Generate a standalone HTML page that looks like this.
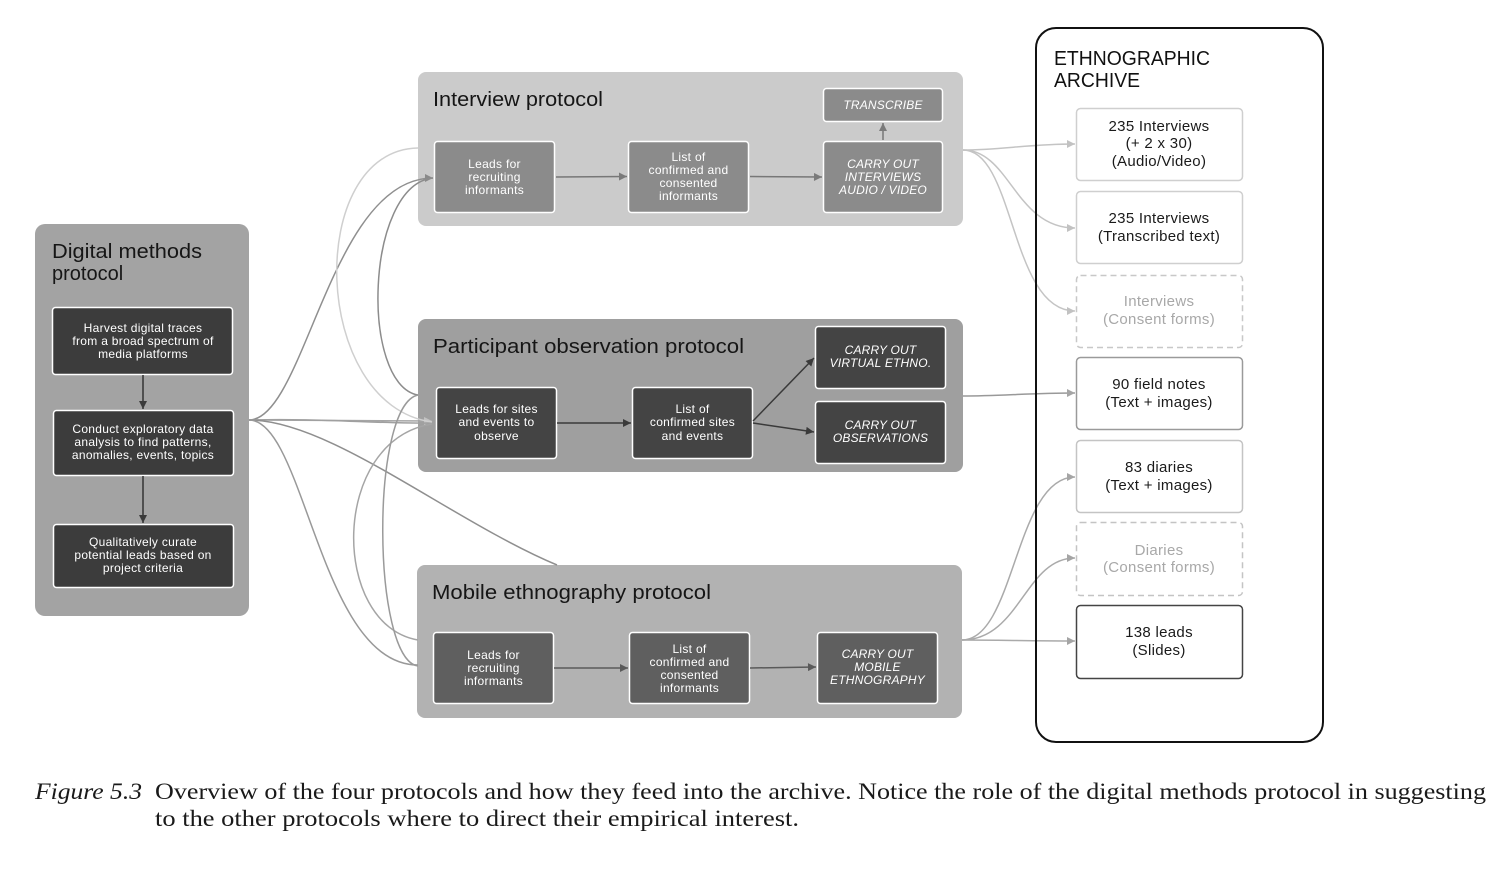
<!DOCTYPE html>
<html><head><meta charset="utf-8"><style>
html,body{margin:0;padding:0;background:#fff;}
svg{display:block;}
.t{font-family:"Liberation Sans",sans-serif;}
.w{fill:#fff;font-size:12px;letter-spacing:0.3px;text-anchor:middle;}
.wi{fill:#fff;font-size:12px;letter-spacing:0.2px;text-anchor:middle;font-style:italic;}
.ttl{fill:#161616;font-size:20px;}
.ai{fill:#1a1a1a;font-size:15px;letter-spacing:0.3px;text-anchor:middle;}
.ag{fill:#a8a8a8;font-size:15px;letter-spacing:0.3px;text-anchor:middle;}
.cap{font-family:"Liberation Serif",serif;font-size:23px;fill:#1a1a1a;}
</style></head><body>
<svg width="1508" height="872" viewBox="0 0 1508 872" xmlns="http://www.w3.org/2000/svg">
<defs>
<marker id="mDark" viewBox="0 0 10 10" refX="10" refY="5" markerWidth="9" markerHeight="8" markerUnits="userSpaceOnUse" orient="auto"><path d="M0,0 L10,5 L0,10 z" fill="#3a3a3a"/></marker>
<marker id="mMid" viewBox="0 0 10 10" refX="10" refY="5" markerWidth="9" markerHeight="8" markerUnits="userSpaceOnUse" orient="auto"><path d="M0,0 L10,5 L0,10 z" fill="#8a8a8a"/></marker>
<marker id="mInt" viewBox="0 0 10 10" refX="10" refY="5" markerWidth="9" markerHeight="8" markerUnits="userSpaceOnUse" orient="auto"><path d="M0,0 L10,5 L0,10 z" fill="#7a7a7a"/></marker>
<marker id="mMob" viewBox="0 0 10 10" refX="10" refY="5" markerWidth="9" markerHeight="8" markerUnits="userSpaceOnUse" orient="auto"><path d="M0,0 L10,5 L0,10 z" fill="#5a5a5a"/></marker>
<marker id="mLight" viewBox="0 0 10 10" refX="10" refY="5" markerWidth="9" markerHeight="8" markerUnits="userSpaceOnUse" orient="auto"><path d="M0,0 L10,5 L0,10 z" fill="#c2c2c2"/></marker>
<marker id="mGray" viewBox="0 0 10 10" refX="10" refY="5" markerWidth="9" markerHeight="8" markerUnits="userSpaceOnUse" orient="auto"><path d="M0,0 L10,5 L0,10 z" fill="#a5a5a5"/></marker>
</defs>

<!-- Archive background -->
<rect x="1036" y="28" width="287" height="714" rx="20" fill="#fff"/>

<!-- Protocol containers -->
<rect x="35" y="224" width="214" height="392" rx="10" fill="#a3a3a3"/>
<rect x="418" y="72" width="545" height="154" rx="8" fill="#cbcbcb"/>
<rect x="418" y="319" width="545" height="153" rx="8" fill="#9f9f9f"/>
<rect x="417" y="565" width="545" height="153" rx="8" fill="#b2b2b2"/>

<!-- Left connectors -->
<g fill="none" stroke-width="1.5">
  <path d="M249,420 C305,420 330,178 433,178" stroke="#8f8f8f" marker-end="url(#mMid)"/>
  <path d="M249,420 L432,421" stroke="#a5a5a5" marker-end="url(#mLight)"/>
  <path d="M249,420 C320,418 380,424 432,423" stroke="#a0a0a0"/>
  <path d="M249,420 C330,420 450,520 557,565" stroke="#8f8f8f"/>
  <path d="M249,420 C305,420 320,665 418,665" stroke="#999"/>
  <path d="M418,148 C305,150 310,405 432,422" stroke="#cfcfcf"/>
  <path d="M418,395 C360,385 365,185 433,178" stroke="#8c8c8c"/>
  <path d="M418,640 C330,625 330,440 432,424" stroke="#a5a5a5"/>
  <path d="M418,395 C370,405 372,660 418,666" stroke="#9a9a9a"/>
</g>

<!-- Right connectors -->
<g fill="none" stroke-width="1.5">
  <path d="M963,150 C1000,150 1030,144 1075,144" stroke="#c4c4c4" marker-end="url(#mLight)"/>
  <path d="M963,150 C1010,150 1015,228 1075,228" stroke="#c4c4c4" marker-end="url(#mLight)"/>
  <path d="M963,150 C1015,150 1010,311 1075,311" stroke="#c4c4c4" marker-end="url(#mLight)"/>
  <path d="M963,396 C1000,396 1030,393 1075,393" stroke="#999" marker-end="url(#mGray)"/>
  <path d="M962,640 C1015,640 1015,477 1075,477" stroke="#aaa" marker-end="url(#mGray)"/>
  <path d="M962,640 C1020,640 1025,558 1075,558" stroke="#aaa" marker-end="url(#mGray)"/>
  <path d="M962,640 C1000,640 1030,641 1075,641" stroke="#aaa" marker-end="url(#mGray)"/>
</g>

<!-- Archive border -->
<rect x="1036" y="28" width="287" height="714" rx="20" fill="none" stroke="#111" stroke-width="2"/>

<g class="t">
<!-- Digital methods -->
<text class="ttl" x="52" y="258" textLength="150" lengthAdjust="spacingAndGlyphs">Digital methods</text>
<text class="ttl" x="52" y="280">protocol</text>
<rect x="52.5" y="307.5" width="180" height="67" rx="3" fill="#3c3c3c" stroke="#fff" stroke-width="1.5"/>
<rect x="53.5" y="410.5" width="180" height="65" rx="3" fill="#3c3c3c" stroke="#fff" stroke-width="1.5"/>
<rect x="53.5" y="524.5" width="180" height="63" rx="3" fill="#3c3c3c" stroke="#fff" stroke-width="1.5"/>
<text class="w" x="143" y="332">Harvest digital traces</text>
<text class="w" x="143" y="345">from a broad spectrum of</text>
<text class="w" x="143" y="358">media platforms</text>
<text class="w" x="143" y="433">Conduct exploratory data</text>
<text class="w" x="143" y="446">analysis to find patterns,</text>
<text class="w" x="143" y="459">anomalies, events, topics</text>
<text class="w" x="143" y="546">Qualitatively curate</text>
<text class="w" x="143" y="559">potential leads based on</text>
<text class="w" x="143" y="572">project criteria</text>
<line x1="143" y1="375" x2="143" y2="409" stroke="#333" stroke-width="1.5" marker-end="url(#mDark)"/>
<line x1="143" y1="476" x2="143" y2="523" stroke="#333" stroke-width="1.5" marker-end="url(#mDark)"/>

<!-- Interview protocol -->
<text class="ttl" x="433" y="106" textLength="170" lengthAdjust="spacingAndGlyphs">Interview protocol</text>
<rect x="434.5" y="141.5" width="120" height="71" rx="3" fill="#8b8b8b" stroke="#fff" stroke-width="1.5"/>
<rect x="628.5" y="141.5" width="120" height="71" rx="3" fill="#8b8b8b" stroke="#fff" stroke-width="1.5"/>
<rect x="823.5" y="141.5" width="119" height="71" rx="3" fill="#8b8b8b" stroke="#fff" stroke-width="1.5"/>
<rect x="823.5" y="88.5" width="119" height="33" rx="3" fill="#8b8b8b" stroke="#fff" stroke-width="1.5"/>
<text class="w" x="494.5" y="168">Leads for</text>
<text class="w" x="494.5" y="181">recruiting</text>
<text class="w" x="494.5" y="194">informants</text>
<text class="w" x="688.5" y="161">List of</text>
<text class="w" x="688.5" y="174">confirmed and</text>
<text class="w" x="688.5" y="187">consented</text>
<text class="w" x="688.5" y="200">informants</text>
<text class="wi" x="883" y="168">CARRY OUT</text>
<text class="wi" x="883" y="181">INTERVIEWS</text>
<text class="wi" x="883" y="194">AUDIO / VIDEO</text>
<text class="wi" x="883" y="109">TRANSCRIBE</text>
<line x1="556" y1="177" x2="627" y2="176.5" stroke="#777" stroke-width="1.5" marker-end="url(#mInt)"/>
<line x1="750" y1="176.5" x2="822" y2="177" stroke="#777" stroke-width="1.5" marker-end="url(#mInt)"/>
<line x1="883" y1="140" x2="883" y2="123" stroke="#777" stroke-width="1.5" marker-end="url(#mInt)"/>

<!-- Participant observation -->
<text class="ttl" x="433" y="353" textLength="311" lengthAdjust="spacingAndGlyphs">Participant observation protocol</text>
<rect x="436.5" y="387.5" width="120" height="71" rx="3" fill="#444" stroke="#fff" stroke-width="1.5"/>
<rect x="632.5" y="387.5" width="120" height="71" rx="3" fill="#444" stroke="#fff" stroke-width="1.5"/>
<rect x="815.5" y="326.5" width="130" height="62" rx="3" fill="#444" stroke="#fff" stroke-width="1.5"/>
<rect x="815.5" y="401.5" width="130" height="62" rx="3" fill="#444" stroke="#fff" stroke-width="1.5"/>
<text class="w" x="496.5" y="413">Leads for sites</text>
<text class="w" x="496.5" y="426">and events to</text>
<text class="w" x="496.5" y="440">observe</text>
<text class="w" x="692.5" y="413">List of</text>
<text class="w" x="692.5" y="426">confirmed sites</text>
<text class="w" x="692.5" y="440">and events</text>
<text class="wi" x="880.5" y="354">CARRY OUT</text>
<text class="wi" x="880.5" y="367">VIRTUAL ETHNO.</text>
<text class="wi" x="880.5" y="429">CARRY OUT</text>
<text class="wi" x="880.5" y="442">OBSERVATIONS</text>
<line x1="557" y1="423" x2="631" y2="423" stroke="#3a3a3a" stroke-width="1.5" marker-end="url(#mDark)"/>
<line x1="753" y1="421" x2="814" y2="358" stroke="#3a3a3a" stroke-width="1.5" marker-end="url(#mDark)"/>
<line x1="753" y1="423" x2="814" y2="432" stroke="#3a3a3a" stroke-width="1.5" marker-end="url(#mDark)"/>

<!-- Mobile ethnography -->
<text class="ttl" x="432" y="599" textLength="279" lengthAdjust="spacingAndGlyphs">Mobile ethnography protocol</text>
<rect x="433.5" y="632.5" width="120" height="71" rx="3" fill="#5f5f5f" stroke="#fff" stroke-width="1.5"/>
<rect x="629.5" y="632.5" width="120" height="71" rx="3" fill="#5f5f5f" stroke="#fff" stroke-width="1.5"/>
<rect x="817.5" y="632.5" width="120" height="71" rx="3" fill="#5f5f5f" stroke="#fff" stroke-width="1.5"/>
<text class="w" x="493.5" y="659">Leads for</text>
<text class="w" x="493.5" y="672">recruiting</text>
<text class="w" x="493.5" y="685">informants</text>
<text class="w" x="689.5" y="653">List of</text>
<text class="w" x="689.5" y="666">confirmed and</text>
<text class="w" x="689.5" y="679">consented</text>
<text class="w" x="689.5" y="692">informants</text>
<text class="wi" x="877.5" y="658">CARRY OUT</text>
<text class="wi" x="877.5" y="671">MOBILE</text>
<text class="wi" x="877.5" y="684">ETHNOGRAPHY</text>
<line x1="554" y1="668" x2="628" y2="668" stroke="#5a5a5a" stroke-width="1.5" marker-end="url(#mMob)"/>
<line x1="750" y1="668" x2="816" y2="667" stroke="#5a5a5a" stroke-width="1.5" marker-end="url(#mMob)"/>

<!-- Archive -->
<text x="1054" y="65" style="font-size:20px;fill:#111" textLength="156" lengthAdjust="spacingAndGlyphs">ETHNOGRAPHIC</text>
<text x="1054" y="87" style="font-size:20px;fill:#111" textLength="86" lengthAdjust="spacingAndGlyphs">ARCHIVE</text>

<rect x="1076.5" y="108.5" width="166" height="72" rx="4" fill="#fff" stroke="#cfcfcf" stroke-width="1.5"/>
<text class="ai" x="1159" y="131">235 Interviews</text>
<text class="ai" x="1159" y="148">(+ 2 x 30)</text>
<text class="ai" x="1159" y="166">(Audio/Video)</text>

<rect x="1076.5" y="191.5" width="166" height="72" rx="4" fill="#fff" stroke="#cfcfcf" stroke-width="1.5"/>
<text class="ai" x="1159" y="223">235 Interviews</text>
<text class="ai" x="1159" y="241">(Transcribed text)</text>

<rect x="1076.5" y="275.5" width="166" height="72" rx="4" fill="#fff" stroke="#c8c8c8" stroke-width="1.5" stroke-dasharray="6,4"/>
<text class="ag" x="1159" y="306">Interviews</text>
<text class="ag" x="1159" y="324">(Consent forms)</text>

<rect x="1076.5" y="357.5" width="166" height="72" rx="4" fill="#fff" stroke="#9a9a9a" stroke-width="1.5"/>
<text class="ai" x="1159" y="389">90 field notes</text>
<text class="ai" x="1159" y="407">(Text + images)</text>

<rect x="1076.5" y="440.5" width="166" height="72" rx="4" fill="#fff" stroke="#c4c4c4" stroke-width="1.5"/>
<text class="ai" x="1159" y="472">83 diaries</text>
<text class="ai" x="1159" y="490">(Text + images)</text>

<rect x="1076.5" y="522.5" width="166" height="73" rx="4" fill="#fff" stroke="#c4c4c4" stroke-width="1.5" stroke-dasharray="6,4"/>
<text class="ag" x="1159" y="555">Diaries</text>
<text class="ag" x="1159" y="572">(Consent forms)</text>

<rect x="1076.5" y="605.5" width="166" height="73" rx="4" fill="#fff" stroke="#444" stroke-width="1.5"/>
<text class="ai" x="1159" y="637">138 leads</text>
<text class="ai" x="1159" y="655">(Slides)</text>
</g>

<!-- Caption -->
<text class="cap" x="35" y="799" font-style="italic" textLength="107" lengthAdjust="spacingAndGlyphs">Figure 5.3</text>
<text class="cap" x="155" y="799" textLength="1331" lengthAdjust="spacingAndGlyphs">Overview of the four protocols and how they feed into the archive. Notice the role of the digital methods protocol in suggesting</text>
<text class="cap" x="155" y="826" textLength="644" lengthAdjust="spacingAndGlyphs">to the other protocols where to direct their empirical interest.</text>
</svg>
</body></html>
